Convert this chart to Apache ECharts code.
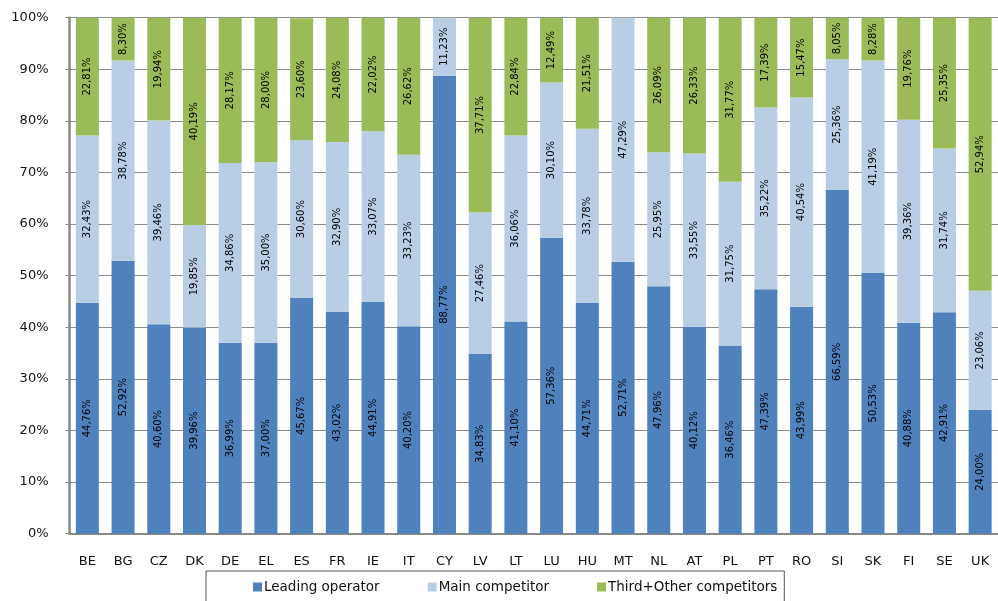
<!DOCTYPE html>
<html>
<head>
<meta charset="utf-8">
<script src="https://cdn.jsdelivr.net/npm/echarts@6/dist/echarts.min.js"></script>
<style>
  html, body { margin: 0; padding: 0; background: #fff; }
  #chart { width: 998px; height: 601px; }
</style>
</head>
<body>
<div id="chart"></div>
<script>
// Market shares by member state (percent)
const categories = ['BE','BG','CZ','DK','DE','EL','ES','FR','IE','IT','CY','LV','LT','LU','HU','MT','NL','AT','PL','PT','RO','SI','SK','FI','SE','UK'];
const leadingOperator = [44.76,52.92,40.60,39.96,36.99,37.00,45.67,43.02,44.91,40.20,88.77,34.83,41.10,57.36,44.71,52.71,47.96,40.12,36.46,47.39,43.99,66.59,50.53,40.88,42.91,24.00];
const mainCompetitor = [32.43,38.78,39.46,19.85,34.86,35.00,30.60,32.90,33.07,33.23,11.23,27.46,36.06,30.10,33.78,47.29,25.95,33.55,31.75,35.22,40.54,25.36,41.19,39.36,31.74,23.06];
const otherCompetitors = [22.81,8.30,19.94,40.19,28.17,28.00,23.60,24.08,22.02,26.62,0,37.71,22.84,12.49,21.51,0,26.09,26.33,31.77,17.39,15.47,8.05,8.28,19.76,25.35,52.94];
const yTicks = [0,10,20,30,40,50,60,70,80,90,100];

const FONT = '"DejaVu Sans", Verdana, sans-serif';

function pctLabel(p) {
  if (!p.value) return '';
  return p.value.toFixed(2).replace('.', ',') + '%';
}

function barSeries(name, data, color) {
  return {
    name: name,
    type: 'bar',
    stack: 'share',
    data: data,
    barWidth: 23,
    itemStyle: { color: color },
    label: {
      show: true,
      position: 'inside',
      rotate: 90,
      formatter: pctLabel,
      fontFamily: FONT,
      fontSize: 10,
      color: '#000'
    }
  };
}

const chart = echarts.init(document.getElementById('chart'));
chart.setOption({
  animation: false,
  backgroundColor: '#fff',
  grid: { left: 69.5, top: 17.7, width: 936, height: 516 },
  xAxis: {
    type: 'category',
    data: categories,
    axisLine: { lineStyle: { color: '#888', width: 2 } },
    axisTick: { show: false },
    axisLabel: { fontFamily: FONT, fontSize: 13, color: '#111', margin: 21, interval: 0 }
  },
  yAxis: {
    type: 'value',
    min: yTicks[0],
    max: yTicks[yTicks.length - 1],
    interval: 10,
    axisLine: { show: true, lineStyle: { color: '#888', width: 2.5 } },
    axisTick: { show: true, inside: false, length: 4, lineStyle: { color: '#888' } },
    splitLine: { show: true, lineStyle: { color: '#8c8c8c', width: 1 } },
    axisLabel: { fontFamily: FONT, fontSize: 13, color: '#111', margin: 21, formatter: '{value}%' }
  },
  legend: {
    left: 206,
    top: 571,
    padding: [9, 7, 9, 47],
    borderColor: '#555',
    borderWidth: 1,
    itemWidth: 9,
    itemHeight: 9,
    itemGap: 48,
    icon: 'rect',
    textStyle: { fontFamily: FONT, fontSize: 13.5, color: '#111', padding: [0, 0, 0, -3] },
    data: ['Leading operator', 'Main competitor', 'Third+Other competitors']
  },
  series: [
    barSeries('Leading operator', leadingOperator, '#4f81bd'),
    barSeries('Main competitor', mainCompetitor, '#b9cde5'),
    barSeries('Third+Other competitors', otherCompetitors, '#9bbb59')
  ]
});
</script>
</body>
</html>
